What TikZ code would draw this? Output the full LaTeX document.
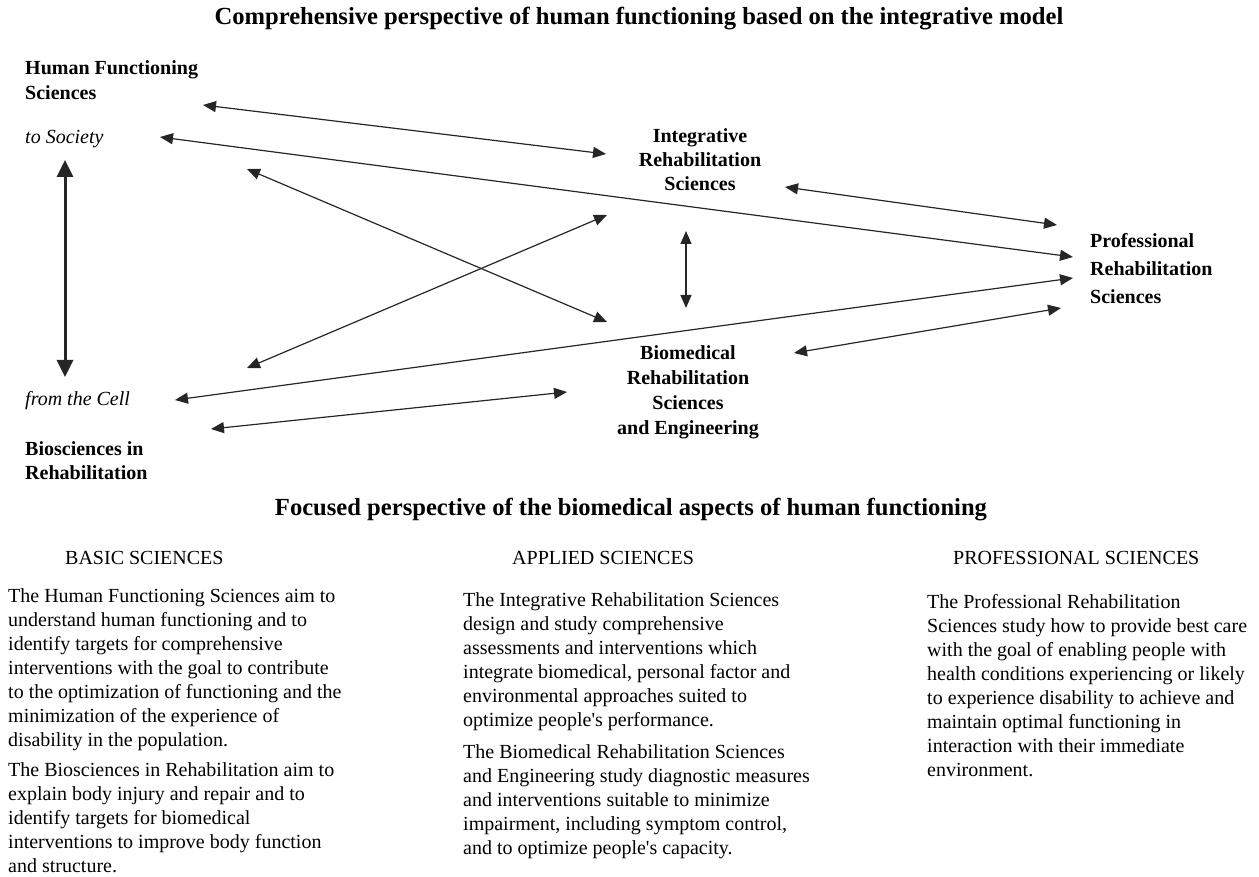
\documentclass[tikz,border=0pt]{standalone}
\usepackage{fontspec}
\setmainfont{Liberation Serif}
\usepackage{tikz}
\usetikzlibrary{arrows.meta}

\begin{document}
\begin{tikzpicture}[x=1pt,y=-1pt,
	txt/.style={inner sep=0pt,font=\fontsize{20}{24}\selectfont,align=left,anchor=base west},
	lbl/.style={inner sep=0pt,font=\fontsize{20}{24}\selectfont\bfseries},
	ttl/.style={inner sep=0pt,font=\fontsize{24.6}{28}\selectfont\bfseries,anchor=base},
	link/.style={{Triangle[length=13pt,width=11pt]}-{Triangle[length=13pt,width=11pt]},line width=1.2pt,color=black!85},
	thick link/.style={{Triangle[length=17pt,width=16pt]}-{Triangle[length=17pt,width=16pt]},line width=3pt,color=black!85}]
				\useasboundingbox (0,0) rectangle (1259,877);
				% upper part (multi-line nodes sit on their last baseline)
				\node[ttl] (top) at (639,25) {Comprehensive perspective of human functioning based on the integrative model};
				\node[lbl,anchor=base west,align=left] (hfs) at (25,100) {Human Functioning\\[1pt]Sciences};
				\node[txt,font=\fontsize{20}{24}\selectfont\itshape] (soc) at (25,144) {to Society};
				\node[txt,font=\fontsize{20}{24}\selectfont\itshape] (cell) at (25,406) {from the Cell};
				\node[lbl,anchor=base west,align=left] (bio) at (25,479) {Biosciences in\\Rehabilitation};
				\node[lbl,anchor=base,align=center] (irs) at (700,191) {Integrative\\Rehabilitation\\Sciences};
				\node[lbl,anchor=base west,align=left] (prs) at (1090,304) {Professional\\[4pt]Rehabilitation\\[4pt]Sciences};
				\node[lbl,anchor=base,align=center,font=\fontsize{20}{24.7}\selectfont\bfseries] (brs) at (688,434) {Biomedical\\Rehabilitation\\Sciences\\and Engineering};
				% arrow ends
				\coordinate (hfs-e) at (203,105);
				\coordinate (irs-w) at (606,154);
				\coordinate (soc-e) at (160,137);
				\coordinate (prs-a) at (1073,257);
				\coordinate (soc-se) at (247,169);
				\coordinate (brs-nw) at (607,322);
				\coordinate (cell-ne) at (247,368);
				\coordinate (irs-sw) at (607,215);
				\coordinate (soc-s) at (65,160);
				\coordinate (cell-n) at (65,377);
				\coordinate (irs-s) at (686,231);
				\coordinate (brs-n) at (686,308);
				\coordinate (irs-e) at (785,187);
				\coordinate (prs-b) at (1057,225);
				\coordinate (cell-e) at (175,400);
				\coordinate (prs-c) at (1073,278);
				\coordinate (bio-e) at (211,429);
				\coordinate (brs-w) at (567,392);
				\coordinate (brs-e) at (794,353);
				\coordinate (prs-d) at (1061,308);
				\draw[link] (hfs-e) -- (irs-w);
				\draw[link] (soc-e) -- (prs-a);
				\draw[link] (soc-se) -- (brs-nw);
				\draw[link] (cell-ne) -- (irs-sw);
				\draw[thick link] (soc-s) -- (cell-n);
				\draw[link] (irs-s) -- (brs-n);
				\draw[link] (irs-e) -- (prs-b);
				\draw[link] (cell-e) -- (prs-c);
				\draw[link] (bio-e) -- (brs-w);
				\draw[link] (brs-e) -- (prs-d);
				% lower part
				\node[ttl] (low) at (631,515) {Focused perspective of the biomedical aspects of human functioning};
				\node[txt] (basic) at (65,564) {BASIC SCIENCES};
				\node[txt] (applied) at (512,564) {APPLIED SCIENCES};
				\node[txt] (prof) at (953,564) {PROFESSIONAL SCIENCES};
				\node[txt] (basic1) at (8,746) {The Human Functioning Sciences aim to\\understand human functioning and to\\identify targets for comprehensive\\interventions with the goal to contribute\\to the optimization of functioning and the\\minimization of the experience of\\disability in the population.};
				\node[txt] (basic2) at (8,872) {The Biosciences in Rehabilitation aim to\\explain body injury and repair and to\\identify targets for biomedical\\interventions to improve body function\\and structure.};
				\node[txt] (applied1) at (463,726) {The Integrative Rehabilitation Sciences\\design and study comprehensive\\assessments and interventions which\\integrate biomedical, personal factor and\\environmental approaches suited to\\optimize people\textquotesingle s performance.};
				\node[txt] (applied2) at (463,854) {The Biomedical Rehabilitation Sciences\\and Engineering study diagnostic measures\\and interventions suitable to minimize\\impairment, including symptom control,\\and to optimize people\textquotesingle s capacity.};
				\node[txt] (prof1) at (927,776) {The Professional Rehabilitation\\Sciences study how to provide best care\\with the goal of enabling people with\\health conditions experiencing or likely\\to experience disability to achieve and\\maintain optimal functioning in\\interaction with their immediate\\environment.};
			\end{tikzpicture}
\end{document}
